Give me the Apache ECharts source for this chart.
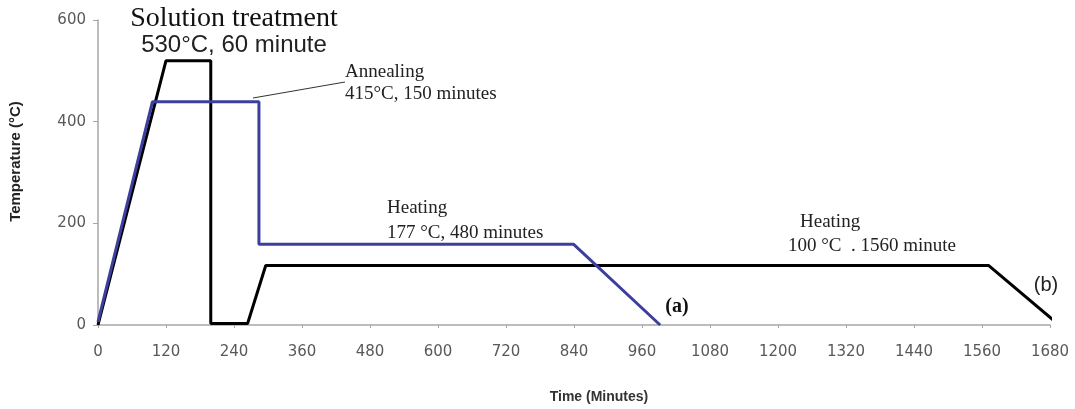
<!DOCTYPE html>
<html>
<head>
<meta charset="utf-8">
<script src="https://cdn.jsdelivr.net/npm/echarts@6/dist/echarts.min.js"></script>
<style>
  html, body { margin: 0; padding: 0; background: #fff; }
  #main { width: 1075px; height: 409px; }
</style>
</head>
<body>
<div id="main"></div>
<script>
// (a) 曲线: 固溶 -> 退火 -> 177度加热
var blueTime = [0, 96, 284, 284, 839, 992];
var blueTemp = [6, 439, 439, 159, 159, 0];
// (b) 曲线: 固溶 -> 淬火 -> 100度加热
var blackTime = [0, 120, 199, 199, 264, 296, 1572, 1692];
var blackTemp = [0, 520, 520, 3, 3, 117, 117, 4];

var xMin = 0, xMax = 1680, xStep = 120;
var yMin = 0, yMax = 600, yStep = 200;

function pairs(xs, ys) {
    var out = [];
    for (var i = 0; i < xs.length; i++) {
        out.push([xs[i], ys[i]]);
    }
    return out;
}

var serif = '"Liberation Serif", "Times New Roman", serif';
var sans = '"Liberation Sans", Arial, sans-serif';
var tickFont = '"DejaVu Sans", sans-serif';

var myChart = echarts.init(document.getElementById("main"));
var option = {
    backgroundColor: '#fff',
    animation: false,
    grid: { left: 97, right: 25, top: 20, bottom: 84 },
    xAxis: {
        type: 'value',
        min: xMin, max: xMax, interval: xStep,
        name: 'Time (Minutes)',
        nameLocation: 'middle',
        nameGap: 65,
        nameTextStyle: { fontFamily: sans, fontWeight: 'bold', fontSize: 14, color: '#333', padding: [0, 0, 0, 50] },
        axisLine: { show: true, lineStyle: { color: '#a6a6a6', width: 1.5 } },
        axisTick: { show: true, length: 3, lineStyle: { color: '#a6a6a6' } },
        axisLabel: {
            margin: 20, fontFamily: tickFont, fontSize: 15, color: '#595959',
            formatter: function (v) { return String(v); }
        },
        splitLine: { show: false }
    },
    yAxis: {
        type: 'value',
        min: yMin, max: yMax, interval: yStep,
        name: 'Temperature (°C)',
        nameLocation: 'middle',
        nameGap: 75,
        nameTextStyle: { fontFamily: sans, fontWeight: 'bold', fontSize: 15, color: '#222', padding: [0, 0, 0, 22] },
        axisLine: { show: true, lineStyle: { color: '#a6a6a6', width: 1.5 } },
        axisTick: { show: true, length: 5, lineStyle: { color: '#a6a6a6' } },
        axisLabel: { margin: 12, fontFamily: tickFont, fontSize: 15, color: '#595959' },
        splitLine: { show: false }
    },
    series: [
        {
            name: '(b)',
            type: 'line',
            data: pairs(blackTime, blackTemp),
            showSymbol: false,
            clip: false,
            lineStyle: { color: '#000', width: 3 },
            z: 2
        },
        {
            name: '(a)',
            type: 'line',
            data: pairs(blueTime, blueTemp),
            showSymbol: false,
            clip: false,
            lineStyle: { color: '#3d3f9f', width: 3 },
            z: 3
        }
    ],
    graphic: [
        { type: 'text', x: 234, y: 19, style: { text: 'Solution treatment', font: '28px ' + serif, fill: '#111', align: 'center', verticalAlign: 'middle' } },
        { type: 'text', x: 234, y: 45, style: { text: '530°C, 60 minute', font: '24px ' + sans, fill: '#222', align: 'center', verticalAlign: 'middle' } },
        { type: 'line', shape: { x1: 253, y1: 98, x2: 345, y2: 82 }, style: { stroke: '#333', lineWidth: 1 } },
        { type: 'text', x: 345, y: 72, style: { text: 'Annealing', font: '19px ' + serif, fill: '#222', verticalAlign: 'middle' } },
        { type: 'text', x: 345, y: 94, style: { text: '415°C, 150 minutes', font: '19px ' + serif, fill: '#222', verticalAlign: 'middle' } },
        { type: 'text', x: 387, y: 208, style: { text: 'Heating', font: '19px ' + serif, fill: '#222', verticalAlign: 'middle' } },
        { type: 'text', x: 387, y: 233, style: { text: '177 °C, 480 minutes', font: '19px ' + serif, fill: '#222', verticalAlign: 'middle' } },
        { type: 'text', x: 800, y: 222, style: { text: 'Heating', font: '19px ' + serif, fill: '#222', verticalAlign: 'middle' } },
        { type: 'text', x: 788, y: 246, style: { text: '100 °C  . 1560 minute', font: '19px ' + serif, fill: '#222', verticalAlign: 'middle' } },
        { type: 'text', x: 677, y: 307, style: { text: '(a)', font: 'bold 20px ' + serif, fill: '#111', align: 'center', verticalAlign: 'middle' } },
        { type: 'text', x: 1046, y: 285, style: { text: '(b)', font: '20px ' + sans, fill: '#222', align: 'center', verticalAlign: 'middle' } }
    ]
};
myChart.setOption(option);
</script>
</body>
</html>
